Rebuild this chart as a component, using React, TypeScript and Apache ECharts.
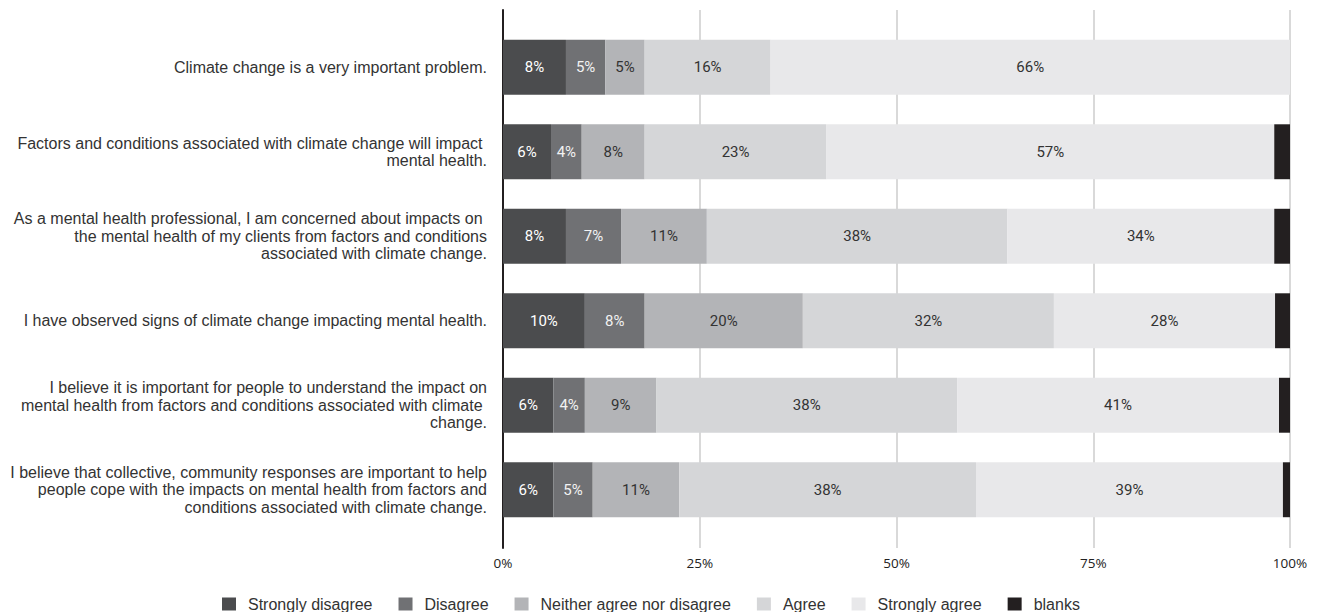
import React, { useEffect, useRef } from "react";
import * as echarts from "echarts";

const categories = [
  "Climate change is a very important problem.",
  "Factors and conditions associated with climate change will impact \nmental health.",
  "As a mental health professional, I am concerned about impacts on \nthe mental health of my clients from factors and conditions\nassociated with climate change.",
  "I have observed signs of climate change impacting mental health.",
  "I believe it is important for people to understand the impact on\nmental health from factors and conditions associated with climate \nchange.",
  "I believe that collective, community responses are important to help\npeople cope with the impacts on mental health from factors and\nconditions associated with climate change.",
];

const seriesNames = [
  "Strongly disagree",
  "Disagree",
  "Neither agree nor disagree",
  "Agree",
  "Strongly agree",
  "blanks",
];

const stronglyDisagree = [8.0, 6.1, 8.0, 10.4, 6.4, 6.4];
const disagree = [5.0, 3.9, 7.0, 7.6, 4.0, 5.0];
const neither = [5.0, 8.0, 10.9, 20.1, 9.1, 11.0];
const agree = [16.0, 23.1, 38.2, 31.9, 38.2, 37.7];
const stronglyAgree = [66.0, 56.9, 33.9, 28.1, 40.9, 39.0];
const blanks = [0, 2.0, 2.0, 1.9, 1.4, 0.9];

const xTicks = [0, 25, 50, 75, 100];

const colors = ["#4b4c4e", "#707174", "#b3b4b7", "#d5d6d8", "#e8e8ea", "#231f20"];
const labelColors = ["#ffffff", "#f2f2f2", "#333333", "#333333", "#333333", "#ffffff"];

export default function App() {
  const ref = useRef<HTMLDivElement>(null);
  useEffect(() => {
    if (!ref.current) return;
    const chart = echarts.init(ref.current, null, { renderer: "svg" });
    const values = [stronglyDisagree, disagree, neither, agree, stronglyAgree, blanks];
    const option: any = {
      animation: false,
      color: colors,
      grid: [
        { left: 503, right: 30, top: 10, bottom: 64 },
        { left: 503, right: 30, top: 25, bottom: 80 },
      ],
      legend: {
        left: 222,
        top: 596,
        padding: 0,
        icon: "rect",
        itemWidth: 14,
        itemHeight: 13,
        itemGap: 26,
        data: seriesNames,
        textStyle: {
          fontFamily: "Liberation Sans, Arial, sans-serif",
          fontSize: 16,
          color: "#333333",
          padding: [0, 0, 0, 7],
        },
      },
      xAxis: [
        {
          gridIndex: 0,
          type: "value",
          min: xTicks[0],
          max: xTicks[xTicks.length - 1],
          interval: 25,
          axisLine: { show: false },
          axisTick: { show: false },
          splitLine: { show: true, lineStyle: { color: "#d9d9d9", width: 2 } },
          axisLabel: {
            formatter: (v: number) => v + "%",
            fontFamily: "Open Sans, sans-serif",
            fontSize: 13.5,
            color: "#222222",
            margin: 8,
          },
        },
        {
          gridIndex: 1,
          type: "value",
          min: 0,
          max: 100,
          show: false,
        },
      ],
      yAxis: [
        {
          gridIndex: 0,
          type: "value",
          min: 0,
          max: 1,
          axisLine: { show: true, lineStyle: { color: "#231f20", width: 2 } },
          axisTick: { show: false },
          axisLabel: { show: false },
          splitLine: { show: false },
        },
        {
          gridIndex: 1,
          type: "category",
          inverse: true,
          data: categories,
          axisLine: { show: false },
          axisTick: { show: false },
          axisLabel: {
            margin: 16,
            fontFamily: "Liberation Sans, Arial, sans-serif",
            fontSize: 16,
            lineHeight: 17.5,
            color: "#333333",
            align: "right",
          },
        },
      ],
      series: seriesNames.map((name, i) => ({
        name,
        type: "bar",
        stack: "total",
        xAxisIndex: 1,
        yAxisIndex: 1,
        barCategoryGap: "35%",
        data: values[i],
        itemStyle: { color: colors[i] },
        label: {
          show: i < 5,
          position: "inside",
          color: labelColors[i],
          fontFamily: "Roboto, sans-serif",
          fontSize: 15,
          formatter: (p: any) => (p.value >= 3 ? Math.round(p.value) + "%" : ""),
        },
      })),
    };
    chart.setOption(option);
    return () => chart.dispose();
  }, []);
  return (
    <div
      ref={ref}
      style={{ position: "absolute", left: 0, top: 0, width: 1320, height: 612, background: "#fff" }}
    />
  );
}
